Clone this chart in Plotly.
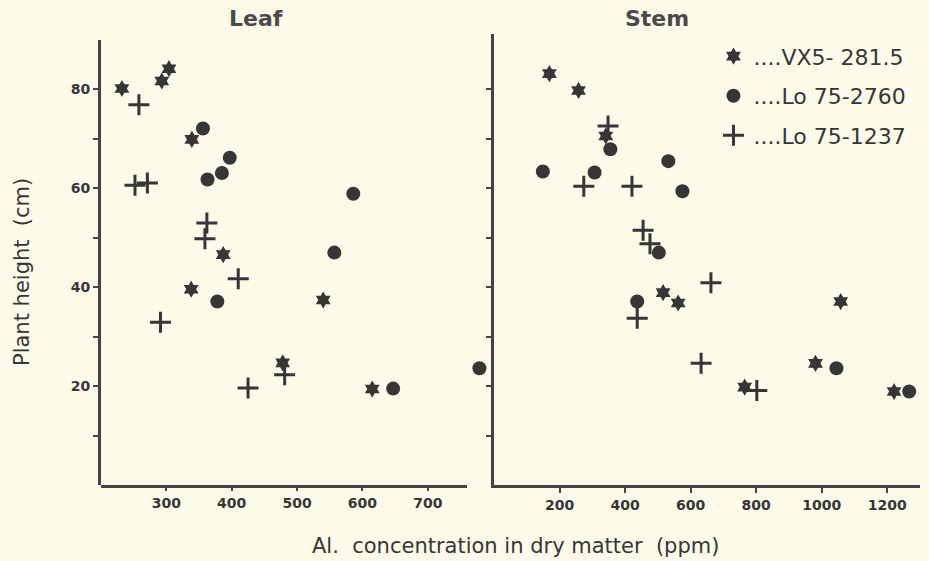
import plotly.graph_objects as go

# ---------------- data ----------------
leaf_vx5_x = [232, 293, 304, 339, 387, 338, 540, 478, 615]
leaf_vx5_y = [80.2, 81.7, 84.2, 69.9, 46.6, 39.6, 37.4, 24.7, 19.4]
leaf_lo2760_x = [356, 397, 385, 363, 586, 557, 378, 647, 779]
leaf_lo2760_y = [72.1, 66.2, 63.1, 61.8, 58.9, 47.0, 37.1, 19.5, 23.6]
leaf_lo1237_x = [258, 252, 271, 362, 359, 410, 291, 425, 481]
leaf_lo1237_y = [76.9, 60.6, 61.1, 53.0, 49.8, 41.7, 32.9, 19.6, 22.3]

stem_vx5_x = [169, 258, 341, 516, 562, 1058, 981, 765, 1221]
stem_vx5_y = [83.2, 79.8, 70.6, 38.9, 36.8, 37.1, 24.6, 19.8, 18.9]
stem_lo2760_x = [149, 307, 355, 532, 575, 503, 437, 1045, 1267]
stem_lo2760_y = [63.4, 63.2, 67.9, 65.5, 59.4, 47.0, 37.1, 23.6, 18.9]
stem_lo1237_x = [348, 274, 421, 455, 476, 437, 662, 632, 802]
stem_lo1237_y = [72.6, 60.4, 60.4, 51.5, 48.8, 33.7, 40.9, 24.6, 19.1]

series_names = ["....VX5- 281.5", "....Lo 75-2760", "....Lo 75-1237"]
panel_titles = ["Leaf", "Stem"]
leaf_xticks = [300, 400, 500, 600, 700]
stem_xticks = [200, 400, 600, 800, 1000, 1200]
y_tickvals = [10, 20, 30, 40, 50, 60, 70, 80]
y_ticktext = ["", "20", "", "40", "", "60", "", "80"]
leaf_axis_end = 760  # drawn end of the leaf x axis line

INK = "#363636"
LINE = "#444444"
BG = "#fcfbea"
FONT = "DejaVu Sans, Noto Sans, sans-serif"

styles = [
    dict(symbol="hexagram", size=13, color=INK, line=dict(width=0)),
    dict(symbol="circle", size=14, color=INK, line=dict(width=0)),
    dict(symbol="cross-thin", size=15, color=INK, line=dict(width=3, color=INK)),
]

fig = go.Figure()
leaf = [(leaf_vx5_x, leaf_vx5_y), (leaf_lo2760_x, leaf_lo2760_y), (leaf_lo1237_x, leaf_lo1237_y)]
stem = [(stem_vx5_x, stem_vx5_y), (stem_lo2760_x, stem_lo2760_y), (stem_lo1237_x, stem_lo1237_y)]

for i, (xs, ys) in enumerate(leaf):
    fig.add_trace(go.Scatter(x=xs, y=ys, mode="markers", marker=styles[i],
                             name=series_names[i], legendgroup=str(i),
                             showlegend=True, cliponaxis=False,
                             xaxis="x", yaxis="y"))
for i, (xs, ys) in enumerate(stem):
    fig.add_trace(go.Scatter(x=xs, y=ys, mode="markers", marker=styles[i],
                             name=series_names[i], legendgroup=str(i),
                             showlegend=False, cliponaxis=False,
                             xaxis="x2", yaxis="y2"))

W, H = 929, 561
tickfont = dict(family=FONT, size=14, color=INK, weight="bold")
axis_common = dict(linecolor=LINE, linewidth=3, showgrid=False,
                   zeroline=False, ticks="outside", ticklen=5, tickwidth=2,
                   tickcolor=LINE, tickfont=tickfont)

# leaf x scale: 560 units over 366 px
leaf_px_per_unit = 366 / 560
leaf_range_end = 200 + (485 - 101) / leaf_px_per_unit

title_font = dict(family=FONT, size=22, color="#4a4a4a", weight="bold")
label_font = dict(family=FONT, size=21, color=INK)

fig.update_layout(
    width=W, height=H,
    margin=dict(l=0, r=0, t=0, b=0),
    paper_bgcolor=BG, plot_bgcolor="rgba(0,0,0,0)",
    showlegend=True,
    legend=dict(x=0.768, y=0.937, xanchor="left", yanchor="top",
                bgcolor="rgba(0,0,0,0)", tracegroupgap=8,
                font=dict(family=FONT, size=22, color=INK)),
    xaxis=dict(domain=[101 / W, 485 / W], range=[200, leaf_range_end], anchor="y",
               showline=False, tickvals=leaf_xticks, **axis_common),
    yaxis=dict(domain=[1 - 485 / H, 1 - 40 / H], range=[0, 90], anchor="x",
               showline=True, tickvals=y_tickvals, ticktext=y_ticktext, **axis_common),
    xaxis2=dict(domain=[494 / W, 920 / W], range=[0, 1300], anchor="y2",
                showline=True, tickvals=stem_xticks, **axis_common),
    yaxis2=dict(domain=[1 - 485 / H, 1 - 34 / H], range=[0, 90 * 451 / 445], anchor="x2",
                showline=True, tickvals=y_tickvals, showticklabels=False, **axis_common),
    shapes=[
        dict(type="line", xref="x", yref="paper", x0=200, x1=leaf_axis_end,
             y0=1 - 486.5 / H, y1=1 - 486.5 / H, line=dict(color=LINE, width=3)),
    ],
    annotations=[
        dict(text=panel_titles[0], x=256 / W, y=1 - 18 / H, xref="paper", yref="paper",
             xanchor="center", yanchor="middle", showarrow=False, font=title_font),
        dict(text=panel_titles[1], x=657 / W, y=1 - 18 / H, xref="paper", yref="paper",
             xanchor="center", yanchor="middle", showarrow=False, font=title_font),
        dict(text="Plant height  (cm)", x=22 / W, y=1 - 272 / H, xref="paper", yref="paper",
             xanchor="center", yanchor="middle", showarrow=False, textangle=-90,
             font=label_font),
        dict(text="Al.  concentration in dry matter  (ppm)", x=515 / W, y=1 - 546 / H,
             xref="paper", yref="paper", xanchor="center", yanchor="middle",
             showarrow=False, font=label_font),
    ],
)

fig.write_html(
    "out.html",
    config={"displayModeBar": False},
    post_script="document.body.style.margin='0';document.body.style.background='" + BG + "';",
)
